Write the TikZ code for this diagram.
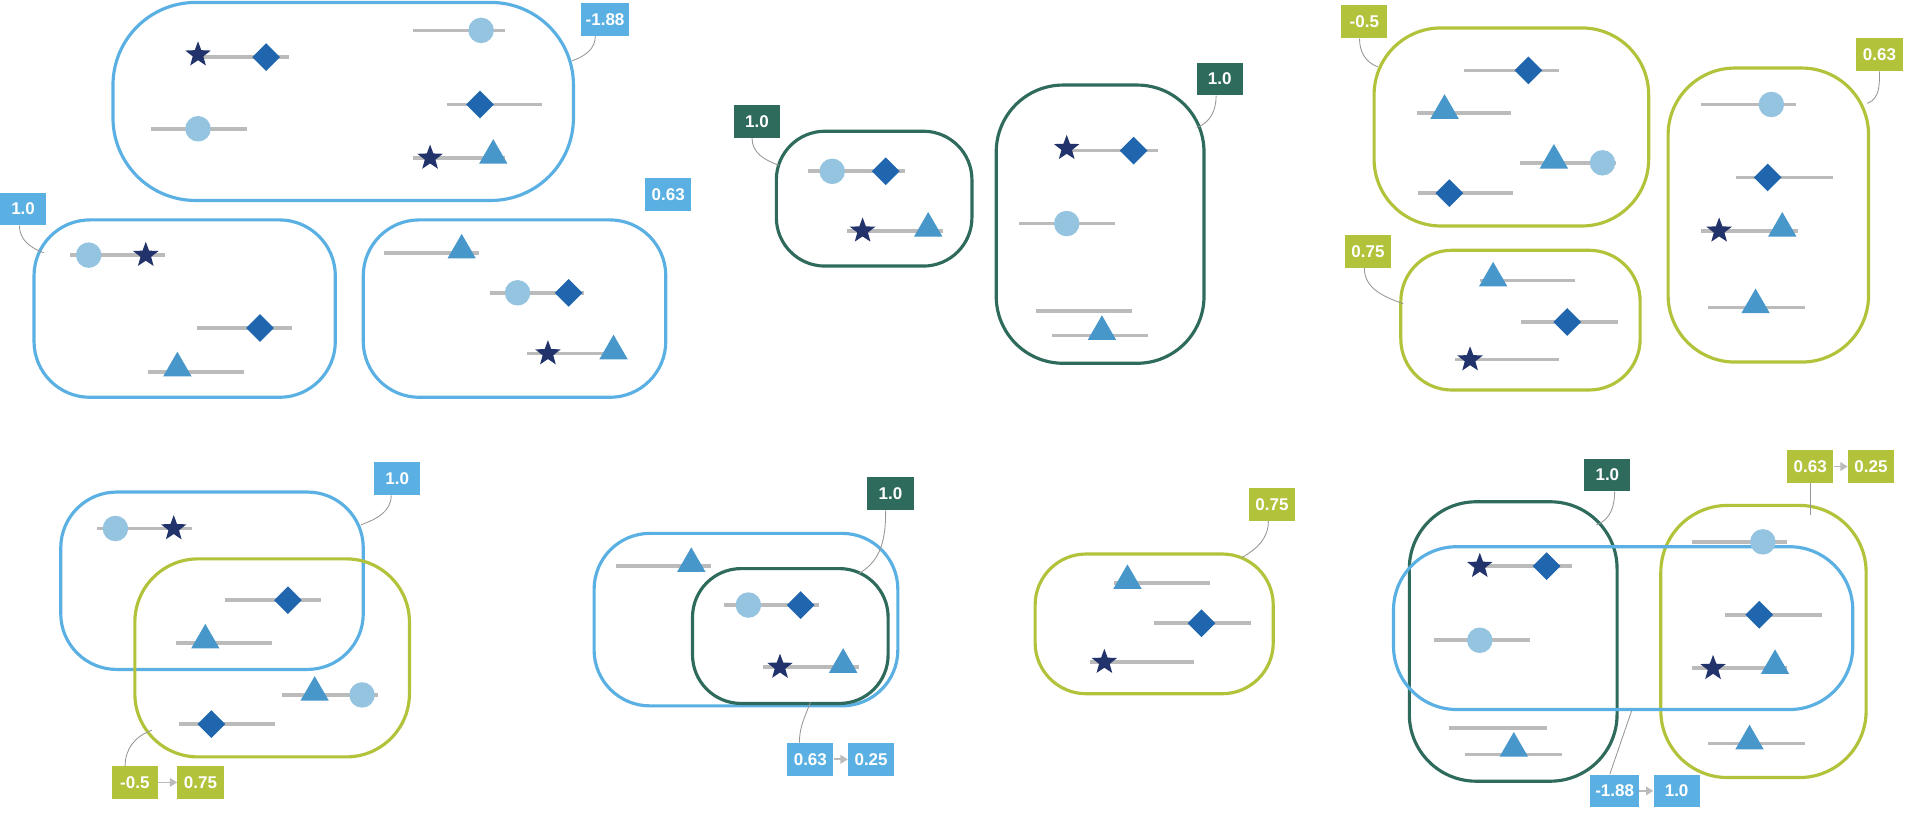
\documentclass[tikz,border=0pt]{standalone}
\usepackage{fontspec}
\setmainfont{Liberation Sans}
\usetikzlibrary{shapes.geometric,arrows.meta}
\definecolor{cb}{HTML}{5AB0E3}
\definecolor{cg}{HTML}{2F6B5C}
\definecolor{cl}{HTML}{B2C23A}
\definecolor{cstar}{HTML}{22336B}
\definecolor{cdia}{HTML}{1F66AE}
\definecolor{ccir}{HTML}{95C4E0}
\definecolor{ctri}{HTML}{4797CB}
\definecolor{cgray}{HTML}{BBBBBB}
\tikzset{
 box/.style={line width=2.6pt,rounded corners=46pt},
 bl/.style={box,draw=cb}, gr/.style={box,draw=cg}, li/.style={box,draw=cl},
 bar/.style={draw=cgray,line width=3pt},
 lab/.style={fill=#1,text=white,font=\bfseries\fontsize{14}{14}\selectfont,inner xsep=4pt,minimum height=27pt,minimum width=38pt},
 leader/.style={draw=cgray!80!black,line width=0.7pt},
 larr/.style={draw=cgray,line width=1.5pt,-{Triangle[length=6pt,width=7pt]}},
}
\newcommand{\gl}[3]{\draw[bar] (#1,#3)--(#2,#3);}
\newcommand{\gstar}[2]{\node[star,star points=5,star point ratio=2.4,fill=cstar,minimum size=22pt,inner sep=0pt] at (#1,#2) {};}
\newcommand{\gdia}[2]{\node[diamond,fill=cdia,minimum size=23pt,inner sep=0pt] at (#1,#2) {};}
\newcommand{\gcir}[2]{\node[circle,fill=ccir,minimum size=21pt,inner sep=0pt] at (#1,#2) {};}
\newcommand{\gtri}[2]{\node[regular polygon,regular polygon sides=3,fill=ctri,minimum size=27pt,inner sep=0pt] at (#1,#2-2) {};}
\begin{document}
\begin{tikzpicture}[x=1pt,y=-1pt]
\useasboundingbox (0,0) rectangle (1568,681);
% ---- Panel 1
\draw[bl,rounded corners=68pt] (93,2) rectangle (472,165);
\gl{165}{238}{47}\gstar{163}{45}\gdia{219}{47}
\gl{340}{416}{25}\gcir{396}{25}
\gl{368}{446}{86}\gdia{395}{86}
\gl{124}{203}{106}\gcir{163}{106}
\gl{340}{416}{130}\gstar{354}{130}\gtri{406}{130}
\node[lab=cb] (l1) at (498,16) {-1.88};
\coordinate (e1) at (471,50);
\draw[leader] (l1.south) ++(-8,0) to[out=-90,in=20] (e1);
\draw[bl] (28,181) rectangle (276,327);
\gl{58}{136}{210}\gcir{73}{210}\gstar{120}{210}
\gl{162}{240}{270}\gdia{214}{270}
\gl{122}{201}{306}\gtri{146}{305}
\node[lab=cb] (l2) at (19,172) {1.0};
\coordinate (e2) at (36,208);
\draw[leader] (l2.south) ++(-3,0) to[out=-90,in=160] (e2);
\draw[bl] (299,181) rectangle (548,327);
\gl{316}{394}{208}\gtri{380}{208}
\gl{403}{481}{241}\gcir{426}{241}\gdia{468}{241}
\gl{434}{513}{291}\gstar{451}{291}\gtri{505}{291}
\node[lab=cb] (l3) at (550,160) {0.63};
% ---- Panel 2
\draw[gr,rounded corners=40pt] (639,108) rectangle (800,219);
\gl{665}{745}{141}\gcir{685}{141}\gdia{729}{141}
\gl{697}{776}{190}\gstar{710}{190}\gtri{764}{190}
\node[lab=cg] (l4) at (623,100) {1.0};
\coordinate (e4) at (641,136);
\draw[leader] (l4.south) ++(-4,0) to[out=-90,in=160] (e4);
\draw[gr,rounded corners=55pt] (820,70) rectangle (991,299);
\gl{878}{953}{124}\gstar{878}{122}\gdia{933}{124}
\gl{839}{918}{184}\gcir{878}{184}
\gl{853}{932}{256}
\gl{866}{945}{276}\gtri{907}{275}
\node[lab=cg] (l5) at (1004,65) {1.0};
\coordinate (e5) at (985,105);
\draw[leader] (l5.south) ++(-3,0) to[out=-90,in=20] (e5);
% ---- Panel 3
\draw[li,rounded corners=55pt] (1131,23) rectangle (1357,186);
\gl{1205}{1283}{58}\gdia{1258}{58}
\gl{1166}{1244}{93}\gtri{1189}{93}
\gl{1251}{1330}{134}\gtri{1279}{134}\gcir{1319}{134}
\gl{1167}{1245}{159}\gdia{1193}{159}
\node[lab=cl] (l6) at (1123,18) {-0.5};
\coordinate (e6) at (1134,55);
\draw[leader] (l6.south) ++(-4,0) to[out=-90,in=160] (e6);
\draw[li,rounded corners=55pt] (1373,56) rectangle (1538,298);
\gl{1400}{1478}{86}\gcir{1458}{86}
\gl{1429}{1509}{146}\gdia{1455}{146}
\gl{1400}{1480}{190}\gstar{1415}{190}\gtri{1467}{190}
\gl{1406}{1486}{253}\gtri{1445}{253}
\node[lab=cl] (l7) at (1547,45) {0.63};
\coordinate (e7) at (1537,85);
\draw[leader] (l7.south) ++(0,0) to[out=-90,in=20] (e7);
\draw[li,rounded corners=42pt] (1153,206) rectangle (1350,321);
\gl{1218}{1296}{231}\gtri{1229}{231}
\gl{1252}{1332}{265}\gdia{1290}{265}
\gl{1198}{1283}{296}\gstar{1210}{296}
\node[lab=cl] (l8) at (1126,207) {0.75};
\coordinate (e8) at (1155,250);
\draw[leader] (l8.south) ++(-3,0) to[out=-90,in=160] (e8);
% ---- Panel 4
\draw[bl] (50,405) rectangle (299,551);
\draw[li,rounded corners=52pt] (111,460) rectangle (337,623);
\gl{80}{158}{435}\gcir{95}{435}\gstar{143}{435}
\gl{185}{264}{494}\gdia{237}{494}
\gl{145}{224}{529}\gtri{169}{529}
\gl{232}{311}{572}\gtri{259}{572}\gcir{298}{572}
\gl{147}{226}{596}\gdia{174}{596}
\node[lab=cb] (l9) at (327,394) {1.0};
\coordinate (e9) at (297,432);
\draw[leader] (l9.south) ++(-5,0) to[out=-90,in=20] (e9);
\node[lab=cl] (l10) at (111,644) {-0.5};
\node[lab=cl] (l11) at (165,644) {0.75};
\draw[larr] (l10) -- (l11);
\coordinate (e10) at (125,601);
\draw[leader] (l10.north) ++(-8,0) to[out=90,in=200] (e10);
% ---- Panel 5
\draw[bl] (489,439) rectangle (739,581);
\draw[gr,rounded corners=40pt] (570,468) rectangle (731,579);
\gl{507}{585}{466}\gtri{569}{466}
\gl{596}{674}{498}\gcir{616}{498}\gdia{659}{498}
\gl{628}{707}{549}\gstar{642}{549}\gtri{694}{549}
\node[lab=cg] (l12) at (733,406) {1.0};
\coordinate (e12) at (707,472);
\draw[leader] (l12.south) ++(-4,0) to[out=-90,in=30] (e12);
\node[lab=cb] (l13) at (667,625) {0.63};
\node[lab=cb] (l14) at (717,625) {0.25};
\draw[larr] (l13) -- (l14);
\coordinate (e13) at (667,578);
\draw[leader] (l13.north) ++(-9,0) to[out=90,in=250] (e13);
% ---- Panel 6
\draw[li,rounded corners=42pt] (852,456) rectangle (1048,571);
\gl{917}{996}{480}\gtri{928}{480}
\gl{950}{1030}{513}\gdia{989}{513}
\gl{897}{983}{545}\gstar{909}{545}
\node[lab=cl] (l15) at (1047,415) {0.75};
\coordinate (e15) at (1022,459);
\draw[leader] (l15.south) ++(-3,0) to[out=-90,in=30] (e15);
% ---- Panel 7
\draw[gr,rounded corners=55pt] (1160,413) rectangle (1331,643);
\draw[li,rounded corners=55pt] (1367,416) rectangle (1536,640);
\draw[bl,rounded corners=52pt] (1147,450) rectangle (1525,584);
\gl{1218}{1294}{466}\gstar{1218}{466}\gdia{1273}{466}
\gl{1180}{1259}{527}\gcir{1218}{527}
\gl{1193}{1273}{599}
\gl{1206}{1286}{621}\gtri{1246}{618}
\gl{1393}{1471}{446}\gcir{1451}{446}
\gl{1420}{1500}{506}\gdia{1448}{506}
\gl{1393}{1471}{550}\gstar{1410}{550}\gtri{1461}{550}
\gl{1406}{1486}{612}\gtri{1440}{612}
\node[lab=cg] (l16) at (1323,391) {1.0};
\coordinate (e16) at (1314,432);
\draw[leader] (l16.south) ++(6,0) to[out=-90,in=20] (e16);
\node[lab=cl] (l17) at (1490,384) {0.63};
\node[lab=cl] (l18) at (1540,384) {0.25};
\draw[larr] (l17) -- (l18);
\coordinate (e17) at (1490,424);
\draw[leader] (l17.south) -- (e17);
\node[lab=cb] (l19) at (1329,651) {-1.88};
\node[lab=cb] (l20) at (1380,651) {1.0};
\draw[larr] (l19) -- (l20);
\coordinate (e19) at (1343,585);
\draw[leader] (l19.north) ++(-4,0) -- (e19);
\end{tikzpicture}
\end{document}
